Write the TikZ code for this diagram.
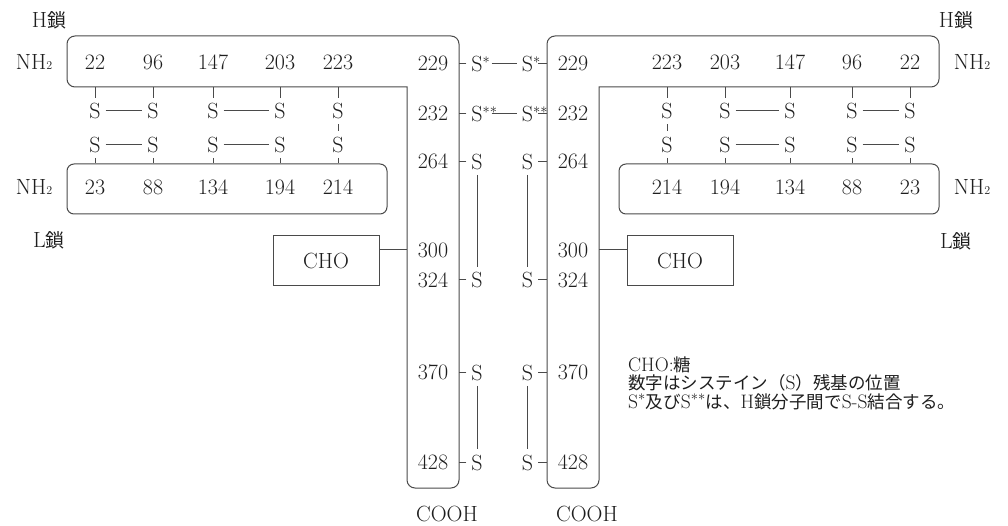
\documentclass[tikz,border=0pt]{standalone}
\usepackage{fontspec}
\newfontfamily\jp{Noto Sans CJK JP}
\definecolor{lc}{HTML}{4A4A4A}
\definecolor{tc}{HTML}{1E1E1E}
\newcommand\mainfsz{\fontsize{22}{26}\selectfont}
\newcommand\legfsz{\fontsize{19.5}{18}\selectfont}
\newcommand\kan[1]{{\jp\fontsize{19}{22}\selectfont #1}}
\newcommand\lj[1]{{\jp\fontsize{17.5}{18}\selectfont #1}}
\newcommand\nhtwo{NH{\fontsize{12}{12}\selectfont 2}}
\begin{document}
\begin{tikzpicture}[x=1pt,y=-1pt,
  ln/.style={line width=1pt, draw=lc},
  t/.style={font=\mainfsz, text=tc, inner sep=0pt},
  sn/.style={font=\mainfsz, text=tc, inner xsep=5pt, inner ysep=5.5pt, outer sep=0pt},
  box/.style={ln, rounded corners=7pt, inner sep=0pt},
  legtext/.style={font=\legfsz, text=tc, inner sep=0pt, anchor=base west}]
\useasboundingbox (0,0) rectangle (1008,526);

% chain outlines (H chains)
\draw[ln, rounded corners=8pt, line cap=rect] (407,87) -- (67,87) -- (67,36) -- (459,36) -- (459,488) -- (407,488) -- (407,87);
\draw[ln, rounded corners=8pt, line cap=rect] (599,87) -- (939,87) -- (939,36) -- (547,36) -- (547,488) -- (599,488) -- (599,87);
\coordinate (hbL) at (67,87);
\coordinate (hbR) at (939,87);
\coordinate (edgeL) at (459,0);
\coordinate (edgeR) at (547,0);
\coordinate (innL) at (407,0);
\coordinate (innR) at (599,0);

% L chain boxes
\node[box, minimum width=320pt, minimum height=50pt] (LbL) at (227,189) {};
\node[box, minimum width=320pt, minimum height=50pt] (LbR) at (779,189) {};

% chain labels
\node[t] (hL) at (49,20) {H\kan{鎖}};
\node[t] (hR) at (956,20) {H\kan{鎖}};
\node[t] (lL) at (49,240) {L\kan{鎖}};
\node[t] (lR) at (956,241) {L\kan{鎖}};
\node[t] (nhL1) at (34,62) {\nhtwo};
\node[t] (nhL2) at (34,187) {\nhtwo};
\node[t] (nhR1) at (972,62) {\nhtwo};
\node[t] (nhR2) at (972,187) {\nhtwo};

% numbers in boxes, left
\foreach \n/\x in {22/95,96/153,147/213,203/280,223/338}
  \node[t] (lh\n) at (\x,62) {\n};
\foreach \n/\x in {23/95,88/153,134/213,194/280,214/338}
  \node[t] (ll\n) at (\x,187) {\n};
% numbers in boxes, right
\foreach \n/\x in {223/667,203/725,147/790,96/852,22/910}
  \node[t] (rh\n) at (\x,62) {\n};
\foreach \n/\x in {214/667,194/725,134/790,88/852,23/910}
  \node[t] (rl\n) at (\x,187) {\n};

% S between H and L, left
\foreach \i/\x in {1/95,2/153,3/213,4/280,5/338}{
  \node[sn] (la\i) at (\x,111) {S};
  \node[sn] (lb\i) at (\x,144.5) {S};
  \draw[ln] (la\i.north) -- (la\i.north |- hbL);
  \draw[ln] (lb\i.south) -- (lb\i.south |- LbL.north);
}
\draw[ln] (la1.east) -- (la2.west);
\draw[ln] (la3.east) -- (la4.west);
\draw[ln] (lb1.east) -- (lb2.west);
\draw[ln] (lb3.east) -- (lb4.west);
\draw[ln] (la5.south) -- (lb5.north);

% S between H and L, right
\foreach \i/\x in {1/667,2/725,3/790,4/852,5/910}{
  \node[sn] (ra\i) at (\x,111) {S};
  \node[sn] (rb\i) at (\x,144.5) {S};
  \draw[ln] (ra\i.north) -- (ra\i.north |- hbR);
  \draw[ln] (rb\i.south) -- (rb\i.south |- LbR.north);
}
\draw[ln] (ra2.east) -- (ra3.west);
\draw[ln] (ra4.east) -- (ra5.west);
\draw[ln] (rb2.east) -- (rb3.west);
\draw[ln] (rb4.east) -- (rb5.west);
\draw[ln] (ra1.south) -- (rb1.north);

% residue numbers along the hinge / Fc part
\foreach \n/\y in {229/63.5,232/113.5,264/161.5,300/250,324/280,370/372.5,428/462.5}{
  \node[t] (ml\n) at (433,\y) {\n};
  \node[t] (mr\n) at (573,\y) {\n};
}

% S of the hinge / Fc part
\node[sn] (sl229) at (477,63.5) {S\rlap{\smash{$^{*}$}}};
\node[sn] (sr229) at (527.5,63.5) {S\rlap{\smash{$^{*}$}}};
\node[sn] (sl232) at (477,113.5) {S\rlap{\smash{$^{**}$}}};
\node[sn] (sr232) at (527.5,113.5) {S\rlap{\smash{$^{**}$}}};
\foreach \n/\y in {264/161.5,324/280,370/372.5,428/462.5}{
  \node[sn] (sl\n) at (477,\y) {S};
  \node[sn] (sr\n) at (527.5,\y) {S};
}
\foreach \n in {229,232,264,324,370,428}{
  \draw[ln] (sl\n.west) -- (sl\n.west -| edgeL);
  \draw[ln] (sr\n.east) -- (sr\n.east -| edgeR);
}
\draw[ln, shorten <=4pt] (sl229.east) -- (sr229.west);
\draw[ln, shorten <=4pt] (sl232.east) -- (sr232.west);
\draw[ln] (sl264.south) -- (sl324.north);
\draw[ln] (sl370.south) -- (sl428.north);
\draw[ln] (sr264.south) -- (sr324.north);
\draw[ln] (sr370.south) -- (sr428.north);

% sugar
\node[draw=lc, line width=1pt, minimum width=106pt, minimum height=50pt, font=\mainfsz, text=tc, inner sep=0pt] (choL) at (326,261) {CHO};
\node[draw=lc, line width=1pt, minimum width=106pt, minimum height=50pt, font=\mainfsz, text=tc, inner sep=0pt] (choR) at (680,261) {CHO};
\draw[ln] (choL.east |- ml300) -- (ml300 -| innL);
\draw[ln] (choR.west |- mr300) -- (mr300 -| innR);

% C termini
\node[t] (cL) at (447,514) {COOH};
\node[t] (cR) at (587,514) {COOH};

% legend
\node[legtext] (g1) at (628,371) {CHO:\lj{糖}};
\node[legtext] (g2) at (628,389.5) {\lj{数字はシステイン（}S\lj{）残基の位置}};
\node[legtext] (g3) at (628,408) {S$^{*}$\lj{及び}S$^{**}$\lj{は、}H\lj{鎖分子間で}S-S\lj{結合する。}};
\end{tikzpicture}
\end{document}
